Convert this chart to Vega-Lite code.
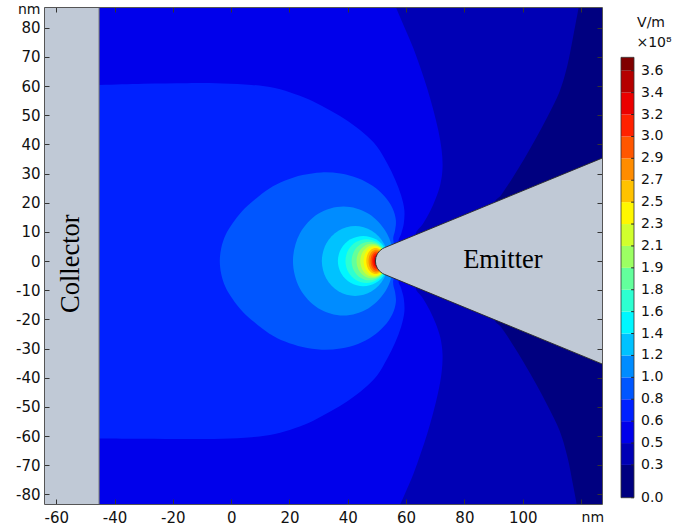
{
"$schema": "https://vega.github.io/schema/vega-lite/v6.json",
"padding": {"left": 15, "top": 2, "right": 2, "bottom": 2},
"autosize": {"type": "pad"},
"background": "white",
"config": {"view": {"stroke": null}, "font": "DejaVu Sans"},
"spacing": 19,
"bounds": "flush",
"datasets": {
"regions": [
{"b":"b00","i":0,"x":-80,"y":100},{"b":"b00","i":1,"x":150,"y":100},{"b":"b00","i":2,"x":150,"y":-100},{"b":"b00","i":3,"x":-80,"y":-100},
{"b":"b01","i":0,"x":-70,"y":95},{"b":"b01","i":1,"x":120.7,"y":95},{"b":"b01","i":2,"x":119.2,"y":87},{"b":"b01","i":3,"x":117.5,"y":78},{"b":"b01","i":4,"x":115.3,"y":67},{"b":"b01","i":5,"x":112.6,"y":58},{"b":"b01","i":6,"x":108.5,"y":49.5},{"b":"b01","i":7,"x":104.5,"y":42},{"b":"b01","i":8,"x":100.5,"y":35},{"b":"b01","i":9,"x":96.5,"y":28.5},{"b":"b01","i":10,"x":92.5,"y":22.5},{"b":"b01","i":11,"x":90.5,"y":20.2},{"b":"b01","i":12,"x":100,"y":8},{"b":"b01","i":13,"x":100,"y":-8},{"b":"b01","i":14,"x":90.5,"y":-20.2},{"b":"b01","i":15,"x":92.5,"y":-22.5},{"b":"b01","i":16,"x":96.5,"y":-28.5},{"b":"b01","i":17,"x":100.5,"y":-35},{"b":"b01","i":18,"x":104.5,"y":-42},{"b":"b01","i":19,"x":108.5,"y":-49.5},{"b":"b01","i":20,"x":112.6,"y":-58},{"b":"b01","i":21,"x":115.3,"y":-67},{"b":"b01","i":22,"x":117.5,"y":-78},{"b":"b01","i":23,"x":119.2,"y":-87},{"b":"b01","i":24,"x":120.3,"y":-92},{"b":"b01","i":25,"x":-70,"y":-92},
{"b":"b02","i":0,"x":-70,"y":95},{"b":"b02","i":1,"x":53.5,"y":95},{"b":"b02","i":2,"x":56.5,"y":87},{"b":"b02","i":3,"x":59.5,"y":80},{"b":"b02","i":4,"x":62.5,"y":73},{"b":"b02","i":5,"x":65,"y":66},{"b":"b02","i":6,"x":67.3,"y":59},{"b":"b02","i":7,"x":69.3,"y":52},{"b":"b02","i":8,"x":71,"y":45},{"b":"b02","i":9,"x":72.2,"y":38},{"b":"b02","i":10,"x":72.5,"y":32},{"b":"b02","i":11,"x":71.8,"y":26.5},{"b":"b02","i":12,"x":70.2,"y":21.5},{"b":"b02","i":13,"x":68.2,"y":17},{"b":"b02","i":14,"x":65.8,"y":12.8},{"b":"b02","i":15,"x":63.3,"y":9},{"b":"b02","i":16,"x":70,"y":3},{"b":"b02","i":17,"x":70,"y":-3},{"b":"b02","i":18,"x":63.3,"y":-9},{"b":"b02","i":19,"x":65.8,"y":-12.8},{"b":"b02","i":20,"x":68.2,"y":-17},{"b":"b02","i":21,"x":70.2,"y":-21.5},{"b":"b02","i":22,"x":71.8,"y":-26.5},{"b":"b02","i":23,"x":72.5,"y":-32},{"b":"b02","i":24,"x":72.2,"y":-38},{"b":"b02","i":25,"x":71,"y":-45},{"b":"b02","i":26,"x":69.3,"y":-52},{"b":"b02","i":27,"x":67.3,"y":-59},{"b":"b02","i":28,"x":65,"y":-66},{"b":"b02","i":29,"x":62.5,"y":-73},{"b":"b02","i":30,"x":59.5,"y":-80},{"b":"b02","i":31,"x":57.3,"y":-85},{"b":"b02","i":32,"x":55,"y":-92},{"b":"b02","i":33,"x":-70,"y":-92},
{"b":"b03","i":0,"x":-70,"y":60.4},{"b":"b03","i":1,"x":-45.3,"y":60.4},{"b":"b03","i":2,"x":-30,"y":60.8},{"b":"b03","i":3,"x":-15,"y":61},{"b":"b03","i":4,"x":-3,"y":60.9},{"b":"b03","i":5,"x":7,"y":60.4},{"b":"b03","i":6,"x":15,"y":59.3},{"b":"b03","i":7,"x":22,"y":57.2},{"b":"b03","i":8,"x":28,"y":54.8},{"b":"b03","i":9,"x":34,"y":51.6},{"b":"b03","i":10,"x":40,"y":48},{"b":"b03","i":11,"x":45.5,"y":43.8},{"b":"b03","i":12,"x":50,"y":39.3},{"b":"b03","i":13,"x":53.5,"y":33.5},{"b":"b03","i":14,"x":56.3,"y":27.8},{"b":"b03","i":15,"x":58.3,"y":22.5},{"b":"b03","i":16,"x":59.4,"y":17.5},{"b":"b03","i":17,"x":59.2,"y":12.8},{"b":"b03","i":18,"x":58.3,"y":9.3},{"b":"b03","i":19,"x":57.4,"y":6.55},{"b":"b03","i":20,"x":62,"y":0},{"b":"b03","i":21,"x":57.4,"y":-6.55},{"b":"b03","i":22,"x":58.3,"y":-9.3},{"b":"b03","i":23,"x":59.2,"y":-12.8},{"b":"b03","i":24,"x":59.4,"y":-17.5},{"b":"b03","i":25,"x":58.3,"y":-22.5},{"b":"b03","i":26,"x":56.3,"y":-27.8},{"b":"b03","i":27,"x":53.5,"y":-33.5},{"b":"b03","i":28,"x":50,"y":-39.3},{"b":"b03","i":29,"x":45.5,"y":-43.8},{"b":"b03","i":30,"x":40,"y":-48},{"b":"b03","i":31,"x":34,"y":-51.6},{"b":"b03","i":32,"x":28,"y":-54.8},{"b":"b03","i":33,"x":22,"y":-57.2},{"b":"b03","i":34,"x":15,"y":-59.3},{"b":"b03","i":35,"x":7,"y":-60.4},{"b":"b03","i":36,"x":-3,"y":-60.9},{"b":"b03","i":37,"x":-15,"y":-61},{"b":"b03","i":38,"x":-30,"y":-60.9},{"b":"b03","i":39,"x":-45.3,"y":-60.8},{"b":"b03","i":40,"x":-70,"y":-60.8},
{"b":"b04","i":0,"x":55.8,"y":5.95},{"b":"b04","i":1,"x":55.6,"y":8},{"b":"b04","i":2,"x":56.2,"y":10.5},{"b":"b04","i":3,"x":56.5,"y":14},{"b":"b04","i":4,"x":55.3,"y":18.2},{"b":"b04","i":5,"x":52.5,"y":22.3},{"b":"b04","i":6,"x":48.5,"y":25.8},{"b":"b04","i":7,"x":43.5,"y":28.4},{"b":"b04","i":8,"x":37.5,"y":30},{"b":"b04","i":9,"x":31,"y":30.4},{"b":"b04","i":10,"x":24.5,"y":29.5},{"b":"b04","i":11,"x":18.5,"y":27.6},{"b":"b04","i":12,"x":13,"y":24.8},{"b":"b04","i":13,"x":8,"y":21},{"b":"b04","i":14,"x":3.8,"y":17.2},{"b":"b04","i":15,"x":0.5,"y":13},{"b":"b04","i":16,"x":-2,"y":8.8},{"b":"b04","i":17,"x":-3.4,"y":4.5},{"b":"b04","i":18,"x":-3.9,"y":0},{"b":"b04","i":19,"x":-3.4,"y":-4.5},{"b":"b04","i":20,"x":-2,"y":-8.8},{"b":"b04","i":21,"x":0.5,"y":-13},{"b":"b04","i":22,"x":3.8,"y":-17.2},{"b":"b04","i":23,"x":8,"y":-21},{"b":"b04","i":24,"x":13,"y":-24.8},{"b":"b04","i":25,"x":18.5,"y":-27.6},{"b":"b04","i":26,"x":24.5,"y":-29.5},{"b":"b04","i":27,"x":31,"y":-30.4},{"b":"b04","i":28,"x":37.5,"y":-30},{"b":"b04","i":29,"x":43.5,"y":-28.4},{"b":"b04","i":30,"x":48.5,"y":-25.8},{"b":"b04","i":31,"x":52.5,"y":-22.3},{"b":"b04","i":32,"x":55.3,"y":-18.2},{"b":"b04","i":33,"x":56.5,"y":-14},{"b":"b04","i":34,"x":56.2,"y":-10.5},{"b":"b04","i":35,"x":55.6,"y":-8},{"b":"b04","i":36,"x":55.8,"y":-5.95},{"b":"b04","i":37,"x":62,"y":0}
],
"rings": [
{"b":"b05","i":0,"x":55.8,"y":0},{"b":"b05","i":1,"x":53.48,"y":9.35},{"b":"b05","i":2,"x":47.15,"y":16.19},{"b":"b05","i":3,"x":38.5,"y":18.7},{"b":"b05","i":4,"x":29.85,"y":16.19},{"b":"b05","i":5,"x":23.52,"y":9.35},{"b":"b05","i":6,"x":21.2,"y":0},{"b":"b05","i":7,"x":23.52,"y":-9.35},{"b":"b05","i":8,"x":29.85,"y":-16.19},{"b":"b05","i":9,"x":38.5,"y":-18.7},{"b":"b05","i":10,"x":47.15,"y":-16.19},{"b":"b05","i":11,"x":53.48,"y":-9.35},
{"b":"b06","i":0,"x":53.9,"y":0},{"b":"b06","i":1,"x":52.37,"y":6},{"b":"b06","i":2,"x":48.2,"y":10.39},{"b":"b06","i":3,"x":42.5,"y":12},{"b":"b06","i":4,"x":36.8,"y":10.39},{"b":"b06","i":5,"x":32.63,"y":6},{"b":"b06","i":6,"x":31.1,"y":0},{"b":"b06","i":7,"x":32.63,"y":-6},{"b":"b06","i":8,"x":36.8,"y":-10.39},{"b":"b06","i":9,"x":42.5,"y":-12},{"b":"b06","i":10,"x":48.2,"y":-10.39},{"b":"b06","i":11,"x":52.37,"y":-6},
{"b":"b07","i":0,"x":54.0,"y":0},{"b":"b07","i":1,"x":52.83,"y":4.3},{"b":"b07","i":2,"x":49.65,"y":7.45},{"b":"b07","i":3,"x":45.3,"y":8.6},{"b":"b07","i":4,"x":40.95,"y":7.45},{"b":"b07","i":5,"x":37.77,"y":4.3},{"b":"b07","i":6,"x":36.6,"y":0},{"b":"b07","i":7,"x":37.77,"y":-4.3},{"b":"b07","i":8,"x":40.95,"y":-7.45},{"b":"b07","i":9,"x":45.3,"y":-8.6},{"b":"b07","i":10,"x":49.65,"y":-7.45},{"b":"b07","i":11,"x":52.83,"y":-4.3},
{"b":"b08","i":0,"x":53.6,"y":0},{"b":"b08","i":1,"x":52.64,"y":3.75},{"b":"b08","i":2,"x":50.0,"y":6.5},{"b":"b08","i":3,"x":46.4,"y":7.5},{"b":"b08","i":4,"x":42.8,"y":6.5},{"b":"b08","i":5,"x":40.16,"y":3.75},{"b":"b08","i":6,"x":39.2,"y":0},{"b":"b08","i":7,"x":40.16,"y":-3.75},{"b":"b08","i":8,"x":42.8,"y":-6.5},{"b":"b08","i":9,"x":46.4,"y":-7.5},{"b":"b08","i":10,"x":50.0,"y":-6.5},{"b":"b08","i":11,"x":52.64,"y":-3.75},
{"b":"b09","i":0,"x":53.5,"y":0},{"b":"b09","i":1,"x":52.68,"y":3.3},{"b":"b09","i":2,"x":50.45,"y":5.72},{"b":"b09","i":3,"x":47.4,"y":6.6},{"b":"b09","i":4,"x":44.35,"y":5.72},{"b":"b09","i":5,"x":42.12,"y":3.3},{"b":"b09","i":6,"x":41.3,"y":0},{"b":"b09","i":7,"x":42.12,"y":-3.3},{"b":"b09","i":8,"x":44.35,"y":-5.72},{"b":"b09","i":9,"x":47.4,"y":-6.6},{"b":"b09","i":10,"x":50.45,"y":-5.72},{"b":"b09","i":11,"x":52.68,"y":-3.3},
{"b":"b10","i":0,"x":53.4,"y":0},{"b":"b10","i":1,"x":52.7,"y":2.95},{"b":"b10","i":2,"x":50.8,"y":5.11},{"b":"b10","i":3,"x":48.2,"y":5.9},{"b":"b10","i":4,"x":45.6,"y":5.11},{"b":"b10","i":5,"x":43.7,"y":2.95},{"b":"b10","i":6,"x":43.0,"y":0},{"b":"b10","i":7,"x":43.7,"y":-2.95},{"b":"b10","i":8,"x":45.6,"y":-5.11},{"b":"b10","i":9,"x":48.2,"y":-5.9},{"b":"b10","i":10,"x":50.8,"y":-5.11},{"b":"b10","i":11,"x":52.7,"y":-2.95},
{"b":"b11","i":0,"x":53.3,"y":0},{"b":"b11","i":1,"x":52.7,"y":2.7},{"b":"b11","i":2,"x":51.05,"y":4.68},{"b":"b11","i":3,"x":48.8,"y":5.4},{"b":"b11","i":4,"x":46.55,"y":4.68},{"b":"b11","i":5,"x":44.9,"y":2.7},{"b":"b11","i":6,"x":44.3,"y":0},{"b":"b11","i":7,"x":44.9,"y":-2.7},{"b":"b11","i":8,"x":46.55,"y":-4.68},{"b":"b11","i":9,"x":48.8,"y":-5.4},{"b":"b11","i":10,"x":51.05,"y":-4.68},{"b":"b11","i":11,"x":52.7,"y":-2.7},
{"b":"b12","i":0,"x":53.23,"y":0},{"b":"b12","i":1,"x":52.71,"y":2.5},{"b":"b12","i":2,"x":51.28,"y":4.33},{"b":"b12","i":3,"x":49.33,"y":5.0},{"b":"b12","i":4,"x":47.38,"y":4.33},{"b":"b12","i":5,"x":45.95,"y":2.5},{"b":"b12","i":6,"x":45.43,"y":0},{"b":"b12","i":7,"x":45.95,"y":-2.5},{"b":"b12","i":8,"x":47.38,"y":-4.33},{"b":"b12","i":9,"x":49.33,"y":-5.0},{"b":"b12","i":10,"x":51.28,"y":-4.33},{"b":"b12","i":11,"x":52.71,"y":-2.5},
{"b":"b13","i":0,"x":52.75,"y":0},{"b":"b13","i":1,"x":52.32,"y":2.23},{"b":"b13","i":2,"x":51.15,"y":3.85},{"b":"b13","i":3,"x":49.55,"y":4.45},{"b":"b13","i":4,"x":47.95,"y":3.85},{"b":"b13","i":5,"x":46.78,"y":2.23},{"b":"b13","i":6,"x":46.35,"y":0},{"b":"b13","i":7,"x":46.78,"y":-2.23},{"b":"b13","i":8,"x":47.95,"y":-3.85},{"b":"b13","i":9,"x":49.55,"y":-4.45},{"b":"b13","i":10,"x":51.15,"y":-3.85},{"b":"b13","i":11,"x":52.32,"y":-2.23},
{"b":"b14","i":0,"x":52.32,"y":0},{"b":"b14","i":1,"x":51.97,"y":1.95},{"b":"b14","i":2,"x":51.02,"y":3.38},{"b":"b14","i":3,"x":49.72,"y":3.9},{"b":"b14","i":4,"x":48.42,"y":3.38},{"b":"b14","i":5,"x":47.47,"y":1.95},{"b":"b14","i":6,"x":47.12,"y":0},{"b":"b14","i":7,"x":47.47,"y":-1.95},{"b":"b14","i":8,"x":48.42,"y":-3.38},{"b":"b14","i":9,"x":49.72,"y":-3.9},{"b":"b14","i":10,"x":51.02,"y":-3.38},{"b":"b14","i":11,"x":51.97,"y":-1.95},
{"b":"b15","i":0,"x":51.78,"y":0},{"b":"b15","i":1,"x":51.51,"y":1.65},{"b":"b15","i":2,"x":50.78,"y":2.86},{"b":"b15","i":3,"x":49.78,"y":3.3},{"b":"b15","i":4,"x":48.78,"y":2.86},{"b":"b15","i":5,"x":48.05,"y":1.65},{"b":"b15","i":6,"x":47.78,"y":0},{"b":"b15","i":7,"x":48.05,"y":-1.65},{"b":"b15","i":8,"x":48.78,"y":-2.86},{"b":"b15","i":9,"x":49.78,"y":-3.3},{"b":"b15","i":10,"x":50.78,"y":-2.86},{"b":"b15","i":11,"x":51.51,"y":-1.65},
{"b":"b16","i":0,"x":51.25,"y":0},{"b":"b16","i":1,"x":51.06,"y":1.35},{"b":"b16","i":2,"x":50.53,"y":2.34},{"b":"b16","i":3,"x":49.8,"y":2.7},{"b":"b16","i":4,"x":49.08,"y":2.34},{"b":"b16","i":5,"x":48.54,"y":1.35},{"b":"b16","i":6,"x":48.35,"y":0},{"b":"b16","i":7,"x":48.54,"y":-1.35},{"b":"b16","i":8,"x":49.08,"y":-2.34},{"b":"b16","i":9,"x":49.8,"y":-2.7},{"b":"b16","i":10,"x":50.53,"y":-2.34},{"b":"b16","i":11,"x":51.06,"y":-1.35},
{"b":"b17","i":0,"x":50.74,"y":0},{"b":"b17","i":1,"x":50.61,"y":1.0},{"b":"b17","i":2,"x":50.27,"y":1.73},{"b":"b17","i":3,"x":49.79,"y":2.0},{"b":"b17","i":4,"x":49.32,"y":1.73},{"b":"b17","i":5,"x":48.97,"y":1.0},{"b":"b17","i":6,"x":48.84,"y":0},{"b":"b17","i":7,"x":48.97,"y":-1.0},{"b":"b17","i":8,"x":49.32,"y":-1.73},{"b":"b17","i":9,"x":49.79,"y":-2.0},{"b":"b17","i":10,"x":50.27,"y":-1.73},{"b":"b17","i":11,"x":50.61,"y":-1.0},
{"b":"b18","i":0,"x":50.26,"y":0},{"b":"b18","i":1,"x":50.19,"y":0.65},{"b":"b18","i":2,"x":50.01,"y":1.13},{"b":"b18","i":3,"x":49.76,"y":1.3},{"b":"b18","i":4,"x":49.51,"y":1.13},{"b":"b18","i":5,"x":49.33,"y":0.65},{"b":"b18","i":6,"x":49.26,"y":0},{"b":"b18","i":7,"x":49.33,"y":-0.65},{"b":"b18","i":8,"x":49.51,"y":-1.13},{"b":"b18","i":9,"x":49.76,"y":-1.3},{"b":"b18","i":10,"x":50.01,"y":-1.13},{"b":"b18","i":11,"x":50.19,"y":-0.65}
],
"emitter": [
{"i":0,"x":145,"y":42.6},{"i":1,"x":52.52,"y":4.55},{"i":2,"x":51.94,"y":4.26},{"i":3,"x":50.92,"y":3.48},{"i":4,"x":50.14,"y":2.46},{"i":5,"x":49.65,"y":1.27},{"i":6,"x":49.48,"y":0},{"i":7,"x":49.65,"y":-1.27},{"i":8,"x":50.14,"y":-2.46},{"i":9,"x":50.92,"y":-3.48},{"i":10,"x":51.94,"y":-4.26},{"i":11,"x":52.52,"y":-4.55},{"i":12,"x":145,"y":-42.6}
],
"bands": [
{"b":"b00","lo":0,"hi":0.276},{"b":"b01","lo":0.276,"hi":0.4605},{"b":"b02","lo":0.4605,"hi":0.645},{"b":"b03","lo":0.645,"hi":0.8295},{"b":"b04","lo":0.8295,"hi":1.014},{"b":"b05","lo":1.014,"hi":1.1985},{"b":"b06","lo":1.1985,"hi":1.383},{"b":"b07","lo":1.383,"hi":1.5675},{"b":"b08","lo":1.5675,"hi":1.752},{"b":"b09","lo":1.752,"hi":1.9365},{"b":"b10","lo":1.9365,"hi":2.121},{"b":"b11","lo":2.121,"hi":2.3055},{"b":"b12","lo":2.3055,"hi":2.49},{"b":"b13","lo":2.49,"hi":2.6745},{"b":"b14","lo":2.6745,"hi":2.859},{"b":"b15","lo":2.859,"hi":3.0435},{"b":"b16","lo":3.0435,"hi":3.228},{"b":"b17","lo":3.228,"hi":3.4125},{"b":"b18","lo":3.4125,"hi":3.597},{"b":"b19","lo":3.597,"hi":3.71}
]
},
"hconcat": [
{
"width": 558,
"height": 497,
"resolve": {"axis": {"x": "independent", "y": "independent"}},
"layer": [
{
"data": {"name": "regions"},
"mark": {"type": "line", "filled": true, "interpolate": "catmull-rom", "clip": true},
"encoding": {
"x": {"field": "x", "type": "quantitative", "scale": {"domain": [-64.2, 127.2], "nice": false, "zero": false},
"axis": {"orient": "bottom", "values": [-60,-40,-20,0,20,40,60,80,100,120], "labelExpr": "datum.value == 120 ? 'nm' : '' + datum.value", "labelFontSize": {"condition": {"test": "datum.value == 120", "value": 14}, "value": 15}, "labelAlign": {"condition": {"test": "datum.value == 120", "value": "left"}, "value": "center"}, "tickSize": -5, "labelPadding": 11, "title": null, "grid": false, "zindex": 1, "domainColor": "#555555", "tickColor": "#333333", "labelColor": "#111111", "labelFont": "DejaVu Sans", "labelFlush": false, "labelOverlap": false}},
"y": {"field": "y", "type": "quantitative", "scale": {"domain": [-83.3, 87.1], "nice": false, "zero": false},
"axis": {"orient": "left", "values": [-80,-70,-60,-50,-40,-30,-20,-10,0,10,20,30,40,50,60,70,80,86.3], "labelExpr": "datum.value > 85 ? 'nm' : '' + datum.value", "labelFontSize": {"condition": {"test": "datum.value > 85", "value": 14}, "value": 15}, "tickColor": {"condition": {"test": "datum.value > 85", "value": "transparent"}, "value": "#333333"}, "tickSize": -5, "labelPadding": 9, "title": null, "grid": false, "zindex": 1, "domainColor": "#555555", "labelColor": "#111111", "labelFont": "DejaVu Sans", "labelFlush": false, "labelOverlap": false}},
"color": {"field": "b", "type": "nominal", "legend": null, "scale": {"domain": ["b00","b01","b02","b03","b04","b05","b06","b07","b08","b09","b10","b11","b12","b13","b14","b15","b16","b17","b18","b19"], "range": ["#000080","#0000B5","#0000EB","#0021FF","#0056FF","#008CFF","#00C2FF","#00F7FF","#2DFFD1","#63FF9C","#9CFF63","#D1FF2D","#FFF700","#FFC200","#FF8C00","#FF5600","#FF2100","#EB0000","#B50000","#800000"]}},
"order": {"field": "i", "type": "quantitative"}
}
},
{
"data": {"name": "rings"},
"mark": {"type": "line", "filled": true, "interpolate": "cardinal-closed", "clip": true},
"encoding": {
"x": {"field": "x", "type": "quantitative", "scale": {"domain": [-64.2, 127.2], "nice": false, "zero": false},
"axis": {"orient": "top", "values": [-60,-40,-20,0,20,40,60,80,100,120], "labels": false, "tickSize": -5, "title": null, "grid": false, "zindex": 1, "domainColor": "#555555", "tickColor": "#333333"}},
"y": {"field": "y", "type": "quantitative", "scale": {"domain": [-83.3, 87.1], "nice": false, "zero": false},
"axis": {"orient": "right", "values": [-80,-70,-60,-50,-40,-30,-20,-10,0,10,20,30,40,50,60,70,80], "labels": false, "tickSize": -5, "title": null, "grid": false, "zindex": 1, "domainColor": "#555555", "tickColor": "#333333"}},
"color": {"field": "b", "type": "nominal", "legend": null, "scale": {"domain": ["b00","b01","b02","b03","b04","b05","b06","b07","b08","b09","b10","b11","b12","b13","b14","b15","b16","b17","b18","b19"], "range": ["#000080","#0000B5","#0000EB","#0021FF","#0056FF","#008CFF","#00C2FF","#00F7FF","#2DFFD1","#63FF9C","#9CFF63","#D1FF2D","#FFF700","#FFC200","#FF8C00","#FF5600","#FF2100","#EB0000","#B50000","#800000"]}},
"order": {"field": "i", "type": "quantitative"}
}
},
{
"data": {"name": "emitter"},
"mark": {"type": "line", "filled": true, "fill": "#c0c9d6", "stroke": "#2a2a2a", "strokeWidth": 0.9, "interpolate": "linear", "clip": true},
"encoding": {
"x": {"field": "x", "type": "quantitative", "scale": {"domain": [-64.2, 127.2], "nice": false, "zero": false}, "axis": null},
"y": {"field": "y", "type": "quantitative", "scale": {"domain": [-83.3, 87.1], "nice": false, "zero": false}, "axis": null},
"order": {"field": "i", "type": "quantitative"}
}
},
{
"data": {"values": [{"x": -70, "x2": -45.3, "y": -95, "y2": 95}]},
"mark": {"type": "rect", "fill": "#c0c9d6", "stroke": "#6a6a6a", "strokeWidth": 1, "clip": true},
"encoding": {
"x": {"field": "x", "type": "quantitative", "scale": {"domain": [-64.2, 127.2], "nice": false, "zero": false}, "axis": null},
"x2": {"field": "x2"},
"y": {"field": "y", "type": "quantitative", "scale": {"domain": [-83.3, 87.1], "nice": false, "zero": false}, "axis": null},
"y2": {"field": "y2"}
}
},
{
"data": {"values": [{"t": "Collector"}]},
"mark": {"type": "text", "font": "Liberation Serif", "fontSize": 26.5, "angle": 270, "align": "center", "baseline": "middle", "color": "#000000"},
"encoding": {
"x": {"datum": -54.8, "type": "quantitative", "scale": {"domain": [-64.2, 127.2], "nice": false, "zero": false}, "axis": null},
"y": {"datum": -0.9, "type": "quantitative", "scale": {"domain": [-83.3, 87.1], "nice": false, "zero": false}, "axis": null},
"text": {"field": "t"}
}
},
{
"data": {"values": [{"t": "Emitter"}]},
"mark": {"type": "text", "font": "Liberation Serif", "fontSize": 26.5, "align": "center", "baseline": "middle", "color": "#000000"},
"encoding": {
"x": {"datum": 93.2, "type": "quantitative", "scale": {"domain": [-64.2, 127.2], "nice": false, "zero": false}, "axis": null},
"y": {"datum": 0.2, "type": "quantitative", "scale": {"domain": [-83.3, 87.1], "nice": false, "zero": false}, "axis": null},
"text": {"field": "t"}
}
}
]
},
{
"width": 13,
"height": 497,
"layer": [
{
"data": {"name": "bands"},
"mark": {"type": "rect"},
"encoding": {
"y": {"field": "lo", "type": "quantitative", "scale": {"domain": [-0.053, 4.134], "nice": false, "zero": false}, "axis": null},
"y2": {"field": "hi"},
"x": {"datum": 0, "type": "quantitative", "scale": {"domain": [0, 1], "nice": false, "zero": false}, "axis": null},
"x2": {"datum": 1},
"color": {"field": "b", "type": "nominal", "legend": null, "scale": {"domain": ["b00","b01","b02","b03","b04","b05","b06","b07","b08","b09","b10","b11","b12","b13","b14","b15","b16","b17","b18","b19"], "range": ["#000080","#0000B5","#0000EB","#0021FF","#0056FF","#008CFF","#00C2FF","#00F7FF","#2DFFD1","#63FF9C","#9CFF63","#D1FF2D","#FFF700","#FFC200","#FF8C00","#FF5600","#FF2100","#EB0000","#B50000","#800000"]}}
}
},
{
"data": {"name": "bands"},
"mark": {"type": "rule", "color": "#222222", "strokeWidth": 1},
"encoding": {
"y": {"field": "lo", "type": "quantitative", "scale": {"domain": [-0.053, 4.134], "nice": false, "zero": false}, "axis": null},
"x": {"datum": 0.78, "type": "quantitative", "scale": {"domain": [0, 1], "nice": false, "zero": false}, "axis": null},
"x2": {"datum": 1}
}
},
{
"data": {"values": [{"t": "bar"}]},
"mark": {"type": "rect", "fillOpacity": 0, "stroke": "#333333", "strokeWidth": 0.8},
"encoding": {
"y": {"datum": 0, "type": "quantitative", "scale": {"domain": [-0.053, 4.134], "nice": false, "zero": false}, "axis": null},
"y2": {"datum": 3.71},
"x": {"datum": 0, "type": "quantitative", "scale": {"domain": [0, 1], "nice": false, "zero": false}, "axis": null},
"x2": {"datum": 1}
}
},
{
"data": {"name": "bands"},
"mark": {"type": "text", "fontSize": 14, "font": "DejaVu Sans", "align": "left", "baseline": "middle", "color": "#111111"},
"encoding": {
"y": {"field": "lo", "type": "quantitative", "scale": {"domain": [-0.053, 4.134], "nice": false, "zero": false}, "axis": null},
"x": {"datum": 1.54, "type": "quantitative", "scale": {"domain": [0, 1], "nice": false, "zero": false}, "axis": null},
"text": {"field": "lo", "type": "quantitative", "format": ".1f"}
}
},
{
"data": {"values": [{"t": "V/m"}]},
"mark": {"type": "text", "fontSize": 14, "font": "DejaVu Sans", "align": "center", "baseline": "middle", "color": "#111111"},
"encoding": {
"x": {"datum": 2.31, "type": "quantitative", "scale": {"domain": [0, 1], "nice": false, "zero": false}, "axis": null},
"y": {"datum": 4.0, "type": "quantitative", "scale": {"domain": [-0.053, 4.134], "nice": false, "zero": false}, "axis": null},
"text": {"field": "t"}
}
},
{
"data": {"values": [{"t": "×10⁸"}]},
"mark": {"type": "text", "fontSize": 14, "font": "DejaVu Sans", "align": "center", "baseline": "middle", "color": "#111111"},
"encoding": {
"x": {"datum": 2.54, "type": "quantitative", "scale": {"domain": [0, 1], "nice": false, "zero": false}, "axis": null},
"y": {"datum": 3.83, "type": "quantitative", "scale": {"domain": [-0.053, 4.134], "nice": false, "zero": false}, "axis": null},
"text": {"field": "t"}
}
}
]
}
]
}
